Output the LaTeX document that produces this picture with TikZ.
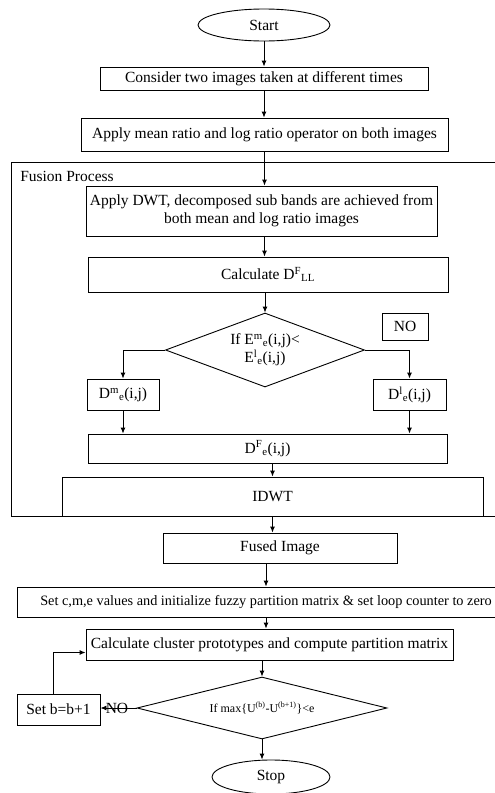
\documentclass[tikz,border=0pt]{standalone}
\usepackage{fontspec}
\setmainfont{Liberation Serif}
\usetikzlibrary{shapes.geometric,arrows.meta}

\begin{document}
\begin{tikzpicture}[x=1pt, y=-1pt, line width=0.9pt,
    every node/.style={font=\fontsize{15.5}{18}\selectfont},
    box/.style={draw, rectangle, inner sep=2pt},
    term/.style={draw, ellipse, inner sep=0pt},
    decision/.style={draw, diamond, inner sep=0pt, align=center},
    arr/.style={-{Latex[length=6pt,width=5pt]}}]
    % page size and cut at the edge
    \useasboundingbox (0,0) rectangle (495,793);
    \clip (0,0) rectangle (495,793);

    % Top - input images
    \node[term, minimum width=132pt, minimum height=32pt] (start) at (264,25) {Start};
    \node[box, minimum width=328pt, minimum height=23pt] (consider) at (264,78.5) {Consider two images taken at different times};
    \node[box, minimum width=367pt, minimum height=33pt] (ratio) at (264.5,134.5) {Apply mean ratio and log ratio operator on both images};

    % Fusion process frame
    \draw (11,162) rectangle (510,516);
    \node[inner sep=0pt] (fusion) at (67,176) {Fusion Process};

    \node[box, minimum width=351pt, minimum height=50pt, align=center] (dwt) at (261.5,211) {Apply DWT, decomposed sub bands are achieved from\\ both mean and log ratio images};
    \node[box, minimum width=360pt, minimum height=35pt] (calc) at (268,274.5) {Calculate D\textsuperscript{F}\textsubscript{LL}};
    \node[decision, aspect=2.7, minimum width=199pt, minimum height=74pt] (cond) at (265,350) {If E\textsuperscript{m}\textsubscript{e}(i,j)<\\ E\textsuperscript{l}\textsubscript{e}(i,j)};
    \node[box, minimum width=46pt, minimum height=27pt] (no) at (405,326.5) {NO};
    \node[box, minimum width=72pt, minimum height=31pt] (dm) at (123,394.5) {D\textsuperscript{m}\textsubscript{e}(i,j)};
    \node[box, minimum width=73pt, minimum height=31pt] (dl) at (409.5,394.5) {D\textsuperscript{l}\textsubscript{e}(i,j)};
    \node[box, minimum width=359pt, minimum height=29pt] (df) at (267.5,448.5) {D\textsuperscript{F}\textsubscript{e}(i,j)};
    \node[box, minimum width=421pt, minimum height=39pt] (idwt) at (272.5,496.5) {IDWT};

    % Bottom - clustering
    \node[box, minimum width=234pt, minimum height=30pt] (fused) at (280,548) {Fused Image};
    \node[box, minimum width=498pt, minimum height=30pt, font=\fontsize{14.3}{17}\selectfont] (init) at (266,602) {Set c,m,e values and initialize fuzzy partition matrix \& set loop counter to zero};
    \node[box, minimum width=367pt, minimum height=31pt] (cluster) at (269.5,644.5) {Calculate cluster prototypes and compute partition matrix};
    \node[decision, aspect=4, minimum width=250pt, minimum height=62pt, font=\fontsize{12}{14}\selectfont] (check) at (262,708) {If max\{U\textsuperscript{(b)}-U\textsuperscript{(b+1)}\}<e};
    \node[box, minimum width=83pt, minimum height=31pt] (incr) at (58.5,709.5) {Set b=b+1};
    \node[inner sep=0pt] (nolabel) at (117,708) {NO};
    \node[term, minimum width=118pt, minimum height=34pt] (stop) at (271,777) {Stop};

    % Connections
    \draw[arr] (start) -- (consider);
    \draw[arr] (consider.south) -- (consider.south |- ratio.north);
    \draw[arr] (ratio.south) -- (ratio.south |- dwt.north);
    \draw[arr] (dwt.south -| ratio.south) -- (ratio.south |- calc.north);
    \draw[arr] (calc.south -| cond.north) -- (cond.north);
    \draw[arr] (cond.west) -| (dm.north);
    \draw[arr] (cond.east) -| (dl.north);
    \draw[arr] (dm.south) -- (dm.south |- df.north);
    \draw[arr] (dl.south) -- (dl.south |- df.north);
    \draw[arr] (idwt.north |- df.south) -- (idwt.north);
    \draw[arr] (idwt.south) -- (idwt.south |- fused.north);
    \draw[arr] (fused.south -| init.north) -- (init.north);
    \draw[arr] (init.south) -- (init.south |- cluster.north);
    \draw[arr] (cluster.south -| check.north) -- (check.north);
    \draw[arr] (check.west) -- (check.west -| incr.east);
    \draw[arr] ([xshift=-5pt]incr.north) |- ([yshift=-8pt]cluster.west);
    \draw[arr] (check.south) -- (check.south |- stop.north);
\end{tikzpicture}
\end{document}
